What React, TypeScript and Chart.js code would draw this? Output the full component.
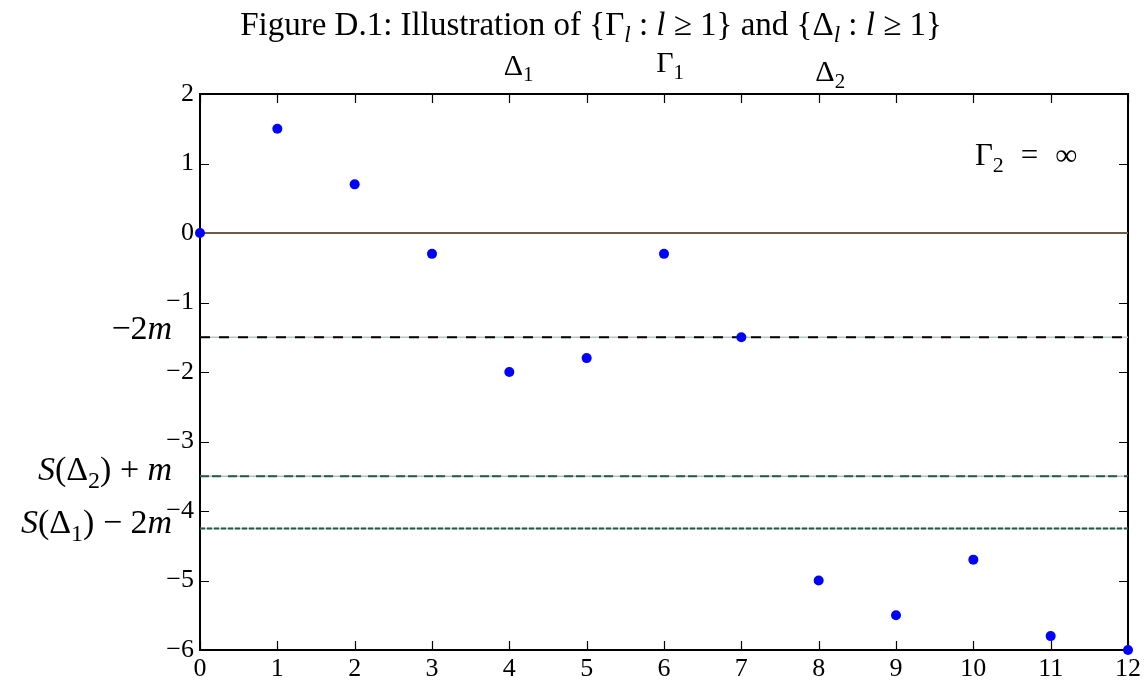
import { useEffect, useRef } from "react";
import { Chart, registerables } from "chart.js";
Chart.register(...registerables);

// ---- data ----
const xValues = [0, 1, 2, 3, 4, 5, 6, 7, 8, 9, 10, 11, 12];
const sValues = [0, 1.5, 0.7, -0.3, -2, -1.8, -0.3, -1.5, -5, -5.5, -4.7, -5.8, -6];
const xTicks = [0, 1, 2, 3, 4, 5, 6, 7, 8, 9, 10, 11, 12];
const yTicks = [2, 1, 0, -1, -2, -3, -4, -5, -6];
const zeroLevel = 0;
const levelMinus2m = -1.5;
const levelSD2 = -3.5;
const levelSD1 = -4.25;
// anchor positions (data units) of the text labels
const topMarkX = [4.12, 6.08, 8.15];
const topMarkY = [2.28, 2.31, 2.18];
const levelLabelX = -0.36;
const levelLabelY = [-1.52, -3.56, -4.32];
const gammaInfPos = { x: 10.02, y: 0.98 };

type Seg = { t: string; it?: boolean; sub?: boolean; dx?: number };

const titleSegs: Seg[] = [
  { t: "Figure D.1: Illustration of {Γ" },
  { t: "l", it: true, sub: true },
  { t: " : " },
  { t: "l", it: true },
  { t: " ≥ 1} and {Δ" },
  { t: "l", it: true, sub: true },
  { t: " : " },
  { t: "l", it: true },
  { t: " ≥ 1}" },
];
const topMarkLabels: Seg[][] = [
  [{ t: "Δ" }, { t: "1", sub: true }],
  [{ t: "Γ" }, { t: "1", sub: true }],
  [{ t: "Δ" }, { t: "2", sub: true }],
];
const levelLabels: Seg[][] = [
  [{ t: "−2" }, { t: "m", it: true }],
  [{ t: "S", it: true }, { t: "(Δ" }, { t: "2", sub: true }, { t: ") + " }, { t: "m", it: true }],
  [{ t: "S", it: true }, { t: "(Δ" }, { t: "1", sub: true }, { t: ") − 2" }, { t: "m", it: true }],
];
const gammaInfLabel: Seg[] = [{ t: "Γ" }, { t: "2", sub: true }, { t: "=", dx: 17 }, { t: "∞", dx: 17 }];

const FAMILY = '"Liberation Serif", "DejaVu Serif", serif';

function drawRich(
  ctx: CanvasRenderingContext2D,
  segs: Seg[],
  x: number,
  y: number,
  align: "left" | "center" | "right",
  size: number
) {
  const fontFor = (s: Seg) => `${s.it ? "italic " : ""}${s.sub ? Math.round(size * 0.7) : size}px ${FAMILY}`;
  const widths = segs.map((s) => {
    ctx.font = fontFor(s);
    return ctx.measureText(s.t).width + (s.dx || 0);
  });
  const total = widths.reduce((a, b) => a + b, 0);
  let cx = align === "left" ? x : align === "center" ? x - total / 2 : x - total;
  ctx.textAlign = "left";
  ctx.textBaseline = "alphabetic";
  segs.forEach((s, i) => {
    ctx.font = fontFor(s);
    ctx.fillText(s.t, cx + (s.dx || 0), y + (s.sub ? size * 0.22 : 0));
    cx += widths[i];
  });
}

const framePlugin = {
  id: "frame",
  beforeDatasetsDraw(chart: any) {
    const { ctx, chartArea: a, scales } = chart;
    const xs = scales.x;
    const ys = scales.y;
    ctx.save();
    ctx.strokeStyle = "#000";
    ctx.lineWidth = 2;
    ctx.strokeRect(a.left, a.top, a.right - a.left, a.bottom - a.top);
    ctx.lineWidth = 1.2;
    const tl = 9;
    ctx.beginPath();
    xTicks.forEach((v) => {
      const px = Math.round(xs.getPixelForValue(v)) + 0.5;
      ctx.moveTo(px, a.bottom);
      ctx.lineTo(px, a.bottom - tl);
      ctx.moveTo(px, a.top);
      ctx.lineTo(px, a.top + tl);
    });
    yTicks.forEach((v) => {
      const py = Math.round(ys.getPixelForValue(v)) + 0.5;
      ctx.moveTo(a.left, py);
      ctx.lineTo(a.left + tl, py);
      ctx.moveTo(a.right, py);
      ctx.lineTo(a.right - tl, py);
    });
    ctx.stroke();
    ctx.restore();
  },
  afterDraw(chart: any) {
    const { ctx, chartArea: a, scales } = chart;
    const xs = scales.x;
    const ys = scales.y;
    ctx.save();
    ctx.fillStyle = "#000";
    drawRich(ctx, titleSegs, (a.left + a.right) / 2 - 73, 35, "center", 33);
    topMarkX.forEach((v, i) => {
      drawRich(ctx, topMarkLabels[i], xs.getPixelForValue(v), ys.getPixelForValue(topMarkY[i]), "center", 30);
    });
    levelLabelY.forEach((v, i) => {
      drawRich(ctx, levelLabels[i], xs.getPixelForValue(levelLabelX), ys.getPixelForValue(v), "right", 34);
    });
    drawRich(ctx, gammaInfLabel, xs.getPixelForValue(gammaInfPos.x), ys.getPixelForValue(gammaInfPos.y), "left", 31);
    ctx.restore();
  },
};

function hline(level: number, color: string, width: number, dash: number[]) {
  return {
    type: "scatter" as const,
    data: [
      { x: xTicks[0], y: level },
      { x: xTicks[xTicks.length - 1], y: level },
    ],
    showLine: true,
    borderColor: color,
    borderWidth: width,
    borderDash: dash,
    pointRadius: 0,
    clip: false as any,
  };
}

export default function App() {
  const ref = useRef<HTMLCanvasElement>(null);
  useEffect(() => {
    if (!ref.current) return;
    const font = { family: FAMILY, size: 26 };
    const chart = new Chart(ref.current, {
      type: "scatter",
      data: {
        datasets: [
          {
            data: xValues.map((x, i) => ({ x, y: sValues[i] })),
            backgroundColor: "#0000ff",
            borderWidth: 0,
            pointRadius: 5,
            clip: false as any,
          } as any,
          hline(zeroLevel, "#6e5a48", 2, []),
          hline(levelMinus2m, "#000000", 2, [10, 9]),
          hline(levelMinus2m, "#b4c8c8", 1.5, []),
          hline(levelSD2, "#1e5c46", 2, [9, 3, 9, 7]),
          hline(levelSD2, "#b4c0c0", 1.5, []),
          hline(levelSD1, "#1e5c46", 2, [5, 2]),
          hline(levelSD1, "#b4c0c0", 1.5, []),
        ],
      },
      options: {
        animation: false,
        responsive: false,
        events: [],
        layout: { padding: { top: 94, right: 18, left: 0, bottom: 0 } },
        plugins: { legend: { display: false }, tooltip: { enabled: false } },
        scales: {
          x: {
            type: "linear",
            min: 0,
            max: 12,
            afterBuildTicks: (s: any) => {
              s.ticks = xTicks.map((v) => ({ value: v }));
            },
            afterFit: (s: any) => {
              s.height = 35;
            },
            ticks: { font, color: "#000", padding: 4, maxRotation: 0, autoSkip: false },
            grid: { display: false, drawTicks: false },
            border: { display: false },
          },
          y: {
            type: "linear",
            min: -6,
            max: 2,
            afterBuildTicks: (s: any) => {
              s.ticks = yTicks.map((v) => ({ value: v }));
            },
            afterFit: (s: any) => {
              s.width = 200;
            },
            ticks: {
              font,
              color: "#000",
              padding: 6,
              autoSkip: false,
              callback: (v: any) => String(v).replace("-", "−"),
            },
            grid: { display: false, drawTicks: false },
            border: { display: false },
          },
        },
      },
      plugins: [framePlugin],
    } as any);
    return () => chart.destroy();
  }, []);
  return (
    <div style={{ position: "fixed", left: 0, top: 0, width: 1146, height: 685, background: "#fff" }}>
      <canvas ref={ref} width={1146} height={685} />
    </div>
  );
}
